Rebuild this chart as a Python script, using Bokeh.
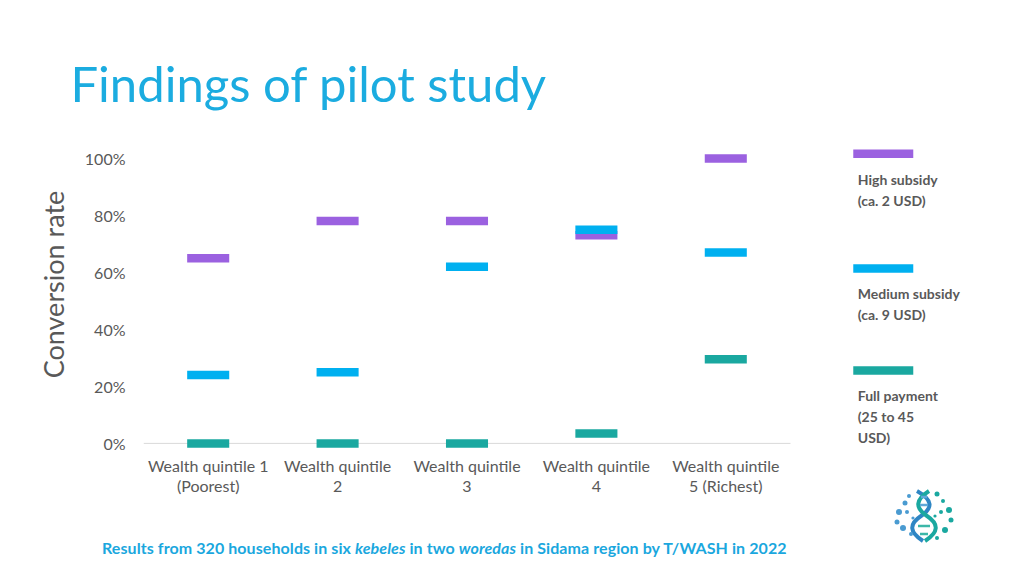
from bokeh.plotting import figure
from bokeh.models import Range1d, FixedTicker, Div, ColumnDataSource
from bokeh.layouts import column
from bokeh.embed import file_html
from bokeh.resources import INLINE
from bokeh.core.properties import value

# ---------------- data ----------------
categories = ["Wealth quintile 1\n(Poorest)", "Wealth quintile\n2", "Wealth quintile\n3",
              "Wealth quintile\n4", "Wealth quintile\n5 (Richest)"]
high_subsidy = [65, 78, 78, 73, 100]
medium_subsidy = [24, 25, 62, 75, 67]
full_payment = [0, 0, 0, 3.5, 29.5]
series_names = ["High subsidy\n(ca. 2 USD)", "Medium subsidy\n(ca. 9 USD)", "Full payment\n(25 to 45\nUSD)"]
series_colors = ["#9B61E0", "#00B0F0", "#1AA8A0"]
y_ticks = [0, 20, 40, 60, 80, 100]
y_tick_labels = ["0%", "20%", "40%", "60%", "80%", "100%"]
title_text = "Findings of pilot study"
y_title = "Conversion rate"
footer_parts = [("Results from 320 households in six ", False), ("kebeles", True), (" in two ", False),
                ("woredas", True), (" in Sidama region by T/WASH in 2022", False)]

# ---------------- layout / style ----------------
FONT = "Lato"
GRAY = "#595959"
W, H = 1016, 510
legend_x_bar = 5.717
legend_x_text = 5.52
legend_y = [101.6, 61.4, 25.6]

p = figure(width=W, height=H, output_backend="svg", toolbar_location=None,
           x_range=Range1d(0, 6.623), y_range=Range1d(-2.5, 114),
           min_border_left=143, min_border_right=16, min_border_top=118, min_border_bottom=60,
           outline_line_color=None)
p.xgrid.visible = False
p.ygrid.visible = False

# title
p.title.text = title_text
p.title.align = "left"
p.title.offset = -73
p.title.text_font = FONT
p.title.text_font_size = "49px"
p.title.text_font_style = "normal"
p.title.text_color = "#1BACE0"
p.title.standoff = 14

# x axis
xa = p.xaxis[0]
xa.ticker = FixedTicker(ticks=[i + 0.5 for i in range(len(categories))])
xa.major_label_overrides = {i + 0.5: c for i, c in enumerate(categories)}
xa.axis_line_color = None
xa.major_tick_line_color = None
xa.minor_tick_line_color = None
xa.major_label_standoff = -1
xa.major_label_text_font = FONT
xa.major_label_text_font_size = "16px"
xa.major_label_text_color = GRAY
xa.major_label_text_line_height = 1.09

# y axis
ya = p.yaxis[0]
ya.ticker = FixedTicker(ticks=y_ticks)
ya.major_label_overrides = {t: l for t, l in zip(y_ticks, y_tick_labels)}
ya.axis_line_color = None
ya.major_tick_line_color = None
ya.minor_tick_line_color = None
ya.major_label_standoff = 12
ya.major_label_text_font = FONT
ya.major_label_text_font_size = "16px"
ya.major_label_text_color = GRAY
ya.axis_label = y_title
ya.axis_label_text_font = FONT
ya.axis_label_text_font_size = "27px"
ya.axis_label_text_font_style = "normal"
ya.axis_label_text_color = GRAY
ya.axis_label_standoff = 12

# baseline at 0
p.segment(x0=[0], y0=[0], x1=[len(categories)], y1=[0], line_color="#D9D9D9", line_width=1)

# bars (dash markers)
xs = [i + 0.5 for i in range(len(categories))]
for vals, col in zip([high_subsidy, medium_subsidy, full_payment], series_colors):
    src = ColumnDataSource(dict(x=xs, y=vals))
    p.rect(x="x", y="y", width=0.325, height=8.5, height_units="screen",
           source=src, fill_color=col, line_color=None)

# custom legend
lsrc = ColumnDataSource(dict(xb=[legend_x_bar] * 3, xt=[legend_x_text] * 3, y=legend_y,
                             c=series_colors, t=series_names))
p.rect(x="xb", y="y", width=60, height=8.5, width_units="screen", height_units="screen",
       fill_color="c", line_color=None, source=lsrc)
p.text(x="xt", y="y", text="t", source=lsrc, y_offset=17, text_baseline="top", text_align="left",
       text_font=value(FONT), text_font_size="14px", text_font_style="bold", text_color=GRAY,
       text_line_height=1.22)

# footer + logo
footer_html = "".join(f"<i>{t}</i>" if it else t for t, it in footer_parts)
logo_svg = """
<svg width="62" height="56" viewBox="0 0 62 56" style="position:absolute;left:888px;top:-27px;">
 <path d="M24 3 C40 12,40 20,28 28 C16 36,16 44,30 53" stroke="#2F86C4" stroke-width="4" fill="none"/>
 <path d="M36 3 C22 12,22 20,34 28 C46 36,46 44,32 53" stroke="#1AA8A0" stroke-width="4" fill="none"/>
 <g stroke-width="2.5">
  <line x1="28" y1="9" x2="34" y2="9" stroke="#5FA8D8"/>
  <line x1="27" y1="17" x2="35" y2="17" stroke="#5FA8D8"/>
  <line x1="25" y1="38" x2="37" y2="38" stroke="#3CB7A8"/>
  <line x1="27" y1="46" x2="35" y2="46" stroke="#3CB7A8"/>
 </g>
 <g fill="#4A9BD1">
  <circle cx="16" cy="8" r="2"/><circle cx="12" cy="15" r="2.5"/><circle cx="6" cy="24" r="3"/>
  <circle cx="14" cy="24" r="2"/><circle cx="4" cy="34" r="2.5"/><circle cx="10" cy="40" r="3"/>
  <circle cx="18" cy="46" r="2"/><circle cx="20" cy="30" r="1.6"/>
 </g>
 <g fill="#1AA8A0">
  <circle cx="44" cy="6" r="2.5"/><circle cx="50" cy="13" r="2"/><circle cx="56" cy="22" r="3"/>
  <circle cx="48" cy="24" r="2"/><circle cx="58" cy="32" r="2.5"/><circle cx="52" cy="42" r="3"/>
  <circle cx="44" cy="50" r="2"/><circle cx="42" cy="28" r="1.6"/>
 </g>
</svg>"""
div_html = (f'<div style="position:relative;width:{W}px;height:62px;">'
            f'<div style="position:absolute;left:97px;top:22px;white-space:nowrap;font-family:Lato;'
            f'font-weight:bold;font-size:16px;letter-spacing:0.08px;color:#1AA7DE;">{footer_html}</div>'
            f'{logo_svg}</div>')
footer = Div(text=div_html, width=W, height=62, styles={"overflow": "visible"})

layout = column(p, footer, spacing=0)
open("out.html", "w").write(file_html(layout, INLINE))
